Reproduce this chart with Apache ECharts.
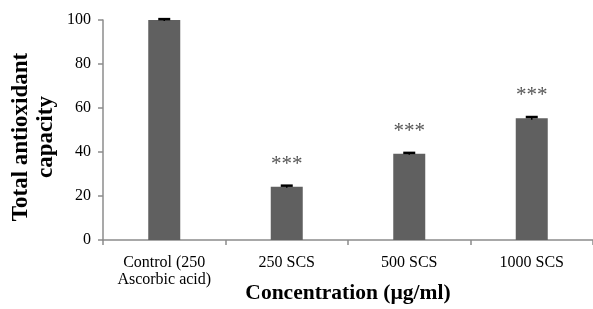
<!DOCTYPE html>
<html>
<head>
<meta charset="utf-8">
<script src="https://cdn.jsdelivr.net/npm/echarts@6/dist/echarts.min.js"></script>
<style>
  html, body { margin: 0; padding: 0; background: #fff; }
  #chart { width: 593px; height: 309px; }
</style>
</head>
<body>
<div id="chart"></div>
<script>
// data
const categories = ['Control (250\nAscorbic acid)', '250 SCS', '500 SCS', '1000 SCS'];
const values = [100, 24.2, 39.2, 55.3];
const errors = [0.4, 0.5, 0.4, 0.6];
const marks = ['', '***', '***', '***'];
const yTicks = [0, 20, 40, 60, 80, 100];

const font = '"Liberation Serif", "Times New Roman", serif';
const chart = echarts.init(document.getElementById('chart'));

const option = {
  animation: false,
  grid: { left: 103, right: 0, top: 20, bottom: 69, outerBoundsMode: 'none' },
  xAxis: {
    type: 'category',
    data: categories,
    name: 'Concentration (µg/ml)',
    nameLocation: 'middle',
    nameGap: 42,
    nameMoveOverlap: false,
    nameTextStyle: { fontFamily: font, fontSize: 21.5, fontWeight: 'bold', color: '#000' },
    axisLine: { lineStyle: { color: '#8c8c8c', width: 1.5 } },
    axisTick: { show: true, alignWithLabel: false, length: 5, lineStyle: { color: '#8c8c8c', width: 1.5 } },
    axisLabel: { fontFamily: font, fontSize: 16, color: '#000', lineHeight: 17, margin: 14, interval: 0 }
  },
  yAxis: {
    type: 'value',
    min: yTicks[0],
    max: yTicks[yTicks.length - 1],
    interval: 20,
    name: 'Total antioxidant\ncapacity',
    nameLocation: 'middle',
    nameGap: 44,
    nameMoveOverlap: false,
    nameTextStyle: { fontFamily: font, fontSize: 23, fontWeight: 'bold', color: '#000', lineHeight: 25, padding: [0, 14, 0, 0] },
    axisLine: { show: true, lineStyle: { color: '#8c8c8c', width: 1.5 } },
    axisTick: { show: true, length: 5, lineStyle: { color: '#8c8c8c', width: 1.5 } },
    splitLine: { show: false },
    axisLabel: { fontFamily: font, fontSize: 16, color: '#000', margin: 12 }
  },
  series: [
    {
      type: 'bar',
      data: values,
      barWidth: 32,
      itemStyle: { color: '#606060' },
      label: {
        show: true,
        position: 'top',
        distance: 12,
        formatter: p => marks[p.dataIndex],
        fontFamily: font,
        fontSize: 21,
        color: '#555'
      }
    },
    {
      type: 'custom',
      data: values.map((v, i) => [i, v, errors[i]]),
      z: 5,
      renderItem: function (params, api) {
        const x = api.coord([api.value(0), 0])[0];
        const top = api.coord([api.value(0), api.value(1) + api.value(2)])[1];
        const bot = api.coord([api.value(0), api.value(1) - api.value(2)])[1];
        return {
          type: 'group',
          children: [
            { type: 'line', shape: { x1: x, y1: bot, x2: x, y2: top }, style: { stroke: '#000', lineWidth: 1.5 } },
            { type: 'line', shape: { x1: x - 6, y1: top, x2: x + 6, y2: top }, style: { stroke: '#000', lineWidth: 2.5 } }
          ]
        };
      }
    }
  ]
};
chart.setOption(option);
</script>
</body>
</html>
